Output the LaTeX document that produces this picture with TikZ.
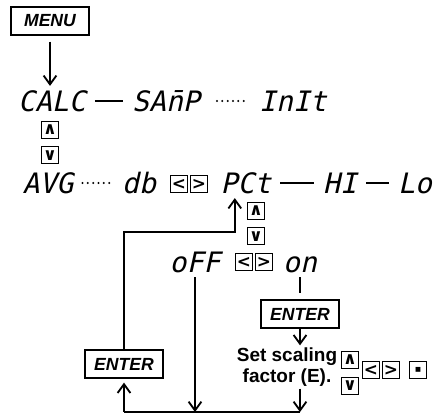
\documentclass[tikz,border=0pt]{standalone}
\usepackage{fontspec}
\setmainfont{Liberation Sans}
\newfontfamily\segfont{DejaVu Sans Mono}[FakeSlant=0.22]
\newfontfamily\keyfont{DejaVu Sans}
\usetikzlibrary{positioning,arrows.meta}

\begin{document}
\begin{tikzpicture}[
    x=0.025cm, y=-0.025cm,
    btn/.style={draw, line width=0.9pt, minimum width=1.95cm, minimum height=0.7cm, inner sep=0pt, font=\fontsize{12.5}{12.5}\selectfont\bfseries\itshape},
    seg/.style={inner sep=0.12cm, text height=0.5cm, text depth=0pt, font=\segfont\fontsize{20}{20}\selectfont},
    key/.style={draw, line width=0.8pt, minimum size=0.42cm, inner sep=0pt, font=\keyfont\bfseries\fontsize{12}{12}\selectfont},
    lbl/.style={align=center, inner sep=0.05cm, font=\fontsize{13.5}{15}\selectfont\bfseries},
    wire/.style={line width=1.3pt},
    sepline/.style={wire, shorten <=0.1cm, shorten >=0.1cm},
    arr/.style={wire, -{Straight Barb[length=2.2mm, width=3.2mm]}},
    dotwire/.style={line width=1.6pt, line cap=round, dash pattern=on 0pt off 3.8pt, shorten >=0.15cm}
]
    \useasboundingbox (0,0) rectangle (438,415);

    % menu entry
    \node[btn] (menu) at (50,21) {MENU};

    % first level
    \node[seg] (calc) at (52,101) {CALC};
    \node[seg] (samp) at (166,101) {SA\=nP};
    \node[seg] (init) at (293,101) {InIt};
    \draw[sepline] (calc) -- (samp);
    \draw[dotwire, shorten <=0.3cm] (samp) -- (init);
    \draw[arr, shorten <=0.15cm] (menu) -- (menu |- calc.north);

    \node[key] (up1) at (50,130) {∧};
    \node[key, below=0.18cm of up1] (dn1) {∨};

    % second level
    \node[seg] (avg) at (48,183) {AVG};
    \node[seg] (db) at (139,183) {db};
    \node[key] (lt1) at (179,184) {<};
    \node[key, right=0.05cm of lt1] (rt1) {>};
    \node[seg] (pct) at (246,183) {PCt};
    \node[seg] (hi) at (340,183) {HI};
    \node[seg] (lo) at (415,183) {Lo};
    \draw[dotwire, shorten <=0.1cm] (avg) -- (db);
    \draw[sepline] (pct) -- (hi);
    \draw[sepline] (hi) -- (lo);

    \node[key] (up2) at (256,211) {∧};
    \node[key, below=0.18cm of up2] (dn2) {∨};

    % percent on/off
    \node[seg] (off) at (195,262) {oFF};
    \node[key] (lt2) at (244,262) {<};
    \node[key, right=0.05cm of lt2] (rt2) {>};
    \node[seg] (on) at (300,262) {on};

    \node[btn] (enterR) at (300,314) {ENTER};
    \node[lbl] (setf) at (287,367) {Set scaling\\factor (E).};
    \node[key] (up3) at (350,360) {∧};
    \node[key, below=0.2cm of up3] (dn3) {∨};
    \node[key] (lt3) at (371,370) {<};
    \node[key, right=0.05cm of lt3] (rt3) {>};
    \node[key, font=\keyfont\fontsize{4.5}{4.5}\selectfont] (pt3) at (418,370) {■};

    \node[btn] (enterL) at (124,364) {ENTER};

    % return paths
    \coordinate (loop) at (124,232);
    \coordinate (botL) at (124,412);
    \coordinate (botR) at (300,412);
    \draw[wire, shorten >=0.17cm] (on) -- (enterR);
    \draw[arr] (enterR) -- (enterR |- setf.north);
    \draw[arr] (setf.south -| enterR) -- (botR);
    \draw[arr] (off) -- (off |- botR);
    \draw[wire] (botL) -- (botR);
    \draw[arr, shorten >=0.1cm] (botL) -- (enterL);
    \draw[arr] (enterL) -- (loop) -| ([xshift=-0.28cm]pct.south);
\end{tikzpicture}
\end{document}
